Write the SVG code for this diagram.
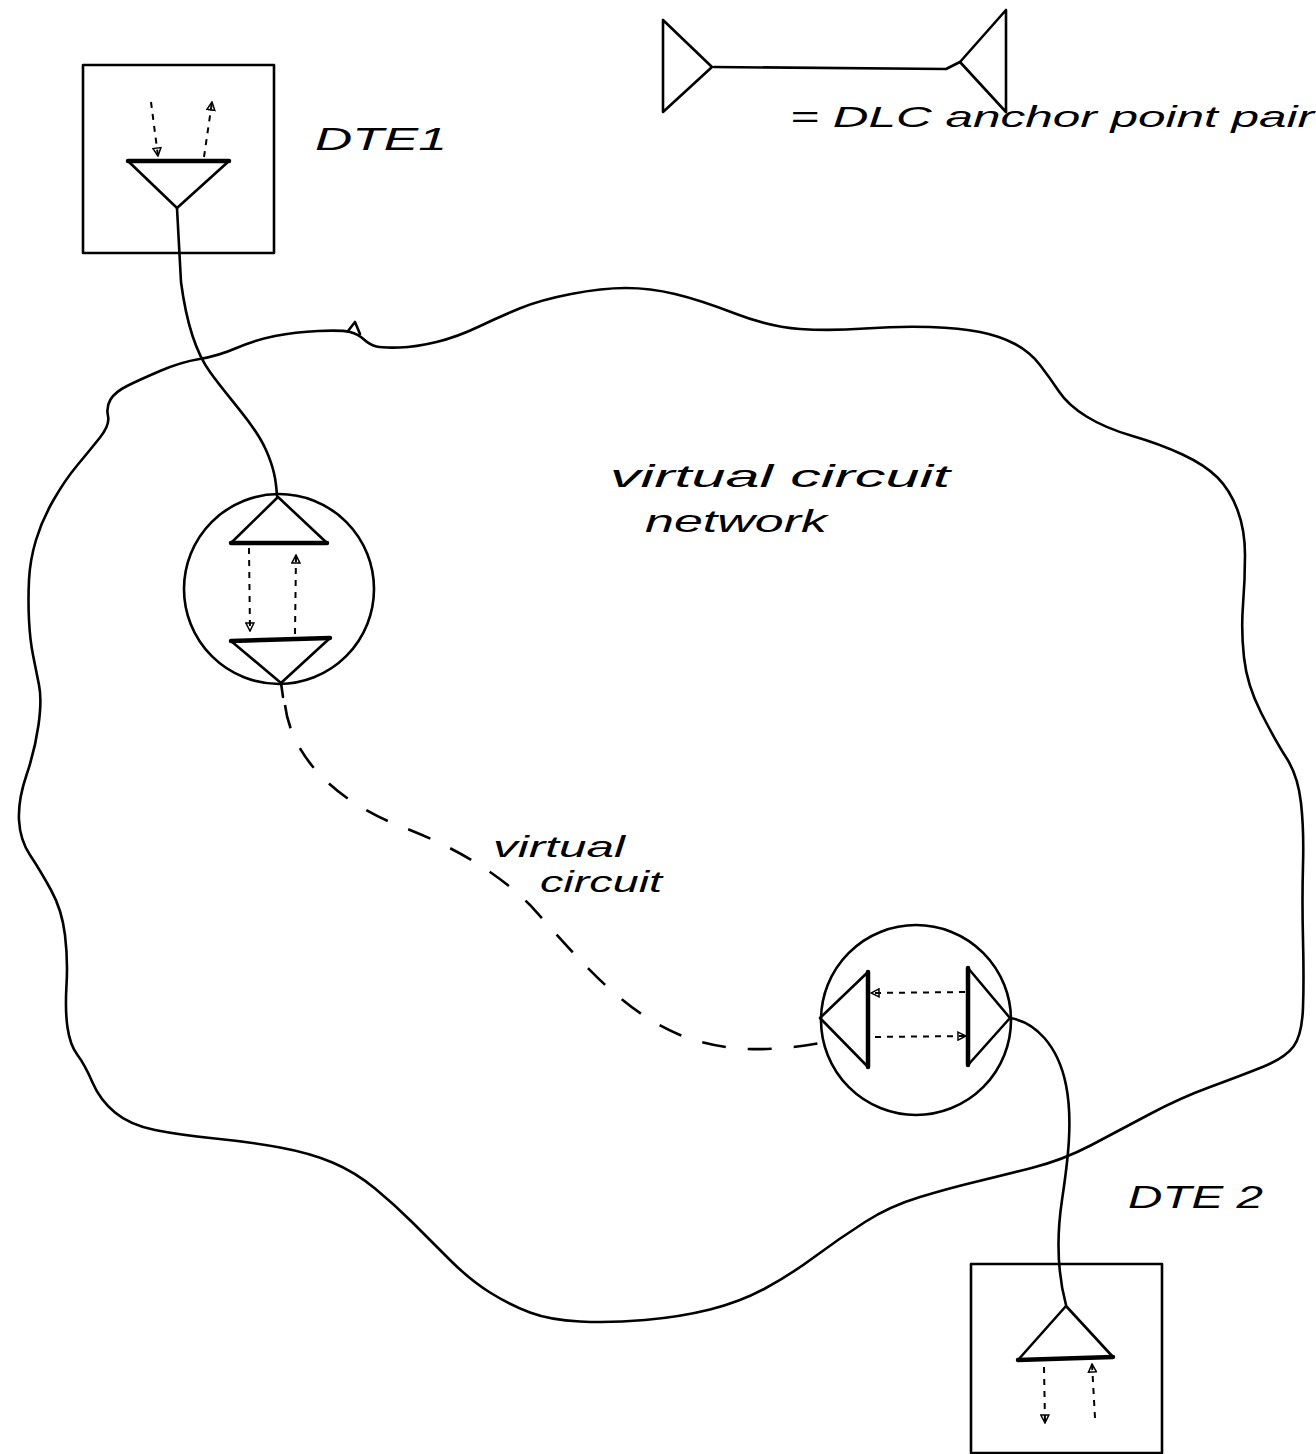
<svg xmlns="http://www.w3.org/2000/svg" width="1316" height="1454" viewBox="0 0 1316 1454">
<style>
.ln{fill:none;stroke:#000;stroke-width:2.6;stroke-linecap:round;stroke-linejoin:round}
.thick{fill:none;stroke:#000;stroke-width:4.5;stroke-linecap:round}
.dash{fill:none;stroke:#000;stroke-width:2;stroke-dasharray:6 6}
.vc{fill:none;stroke:#000;stroke-width:2.6;stroke-dasharray:24 22}
.txt{font-family:"Liberation Sans",Arial,sans-serif;font-style:italic;fill:#000}
</style>
<defs>
<marker id="ah" viewBox="0 0 10 10" refX="9" refY="5" markerWidth="10" markerHeight="10" markerUnits="userSpaceOnUse" orient="auto">
<path d="M1,1 L9,5 L1,9 Z" fill="none" stroke="#000" stroke-width="1.5"/>
</marker>
</defs>
<rect width="1316" height="1454" fill="#fff"/>

<g id="network">
<path class="ln" d="M376.5,346.5 Q383,348 399.5,347.5 Q416,347 436.5,342 Q457,337 478,327 Q499,317 519.5,308.5 Q540,300 571,294 Q602,288 626,288 Q650,288 675,294 Q700,300 735,313.5 Q770,327 800,329 Q830,331 865,328.5 Q900,326 930,327 Q960,328 980,332 Q1000,336 1015,344 Q1030,352 1040,365 Q1050,378 1059,391.5 Q1068,405 1086.5,416.5 Q1105,428 1132.5,436 Q1160,444 1182.5,454.5 Q1205,465 1217.5,477.5 Q1230,490 1237.5,510 Q1245,530 1245,555 Q1245,580 1243,605 Q1241,630 1244,657.5 Q1247,685 1261,712.5 Q1275,740 1286.5,758 Q1298,776 1301,803 Q1304,830 1303,865 Q1302,900 1303,940 Q1304,980 1303,1007.5 Q1302,1035 1293.5,1046.5 Q1285,1058 1262.5,1067 Q1240,1076 1210,1087 Q1180,1098 1150,1114 Q1120,1130 1091.5,1145 Q1063,1160 1031.5,1168 Q1000,1176 975,1182 Q950,1188 920,1197 Q890,1206 865,1222 Q840,1238 815,1256.5 Q790,1275 765,1288.5 Q740,1302 710,1309.5 Q680,1317 645,1320 Q610,1323 580,1321.5 Q550,1320 530,1312.5 Q510,1305 490,1292.5 Q470,1280 450,1260 Q430,1240 412.5,1222.5 Q395,1205 375,1188.5 Q355,1172 332.5,1162.5 Q310,1153 280,1147.5 Q250,1142 215,1138.5 Q180,1135 155,1130 Q130,1125 115,1112.5 Q100,1100 92.5,1082.5 Q85,1065 77.5,1055 Q70,1045 67.5,1027.5 Q65,1010 66.5,985 Q68,960 65,935 Q62,910 51,890 Q40,870 30,855 Q20,840 19,820 Q18,800 26.5,775 Q35,750 38.5,725 Q42,700 39,685 Q36,670 33,655 Q30,640 29,620 Q28,600 29,580 Q30,560 36,540 Q42,520 53.5,500 Q65,480 77.5,465 Q90,450 100,437.5 Q110,425 108,416 Q106,407 110.5,399.5 Q115,392 127,386 Q139,380 160,371 Q181,362 199.5,359 Q218,356 236.5,348 Q255,340 275,336 Q295,332 318.5,331 Q342,330 350,332 Q358,334 364,339.5 Q370,345 376.5,346.5 Z"/>
<path class="ln" d="M348,331 L355,322 L360,334"/>
<text class="txt" x="610" y="487" font-size="32" textLength="340" lengthAdjust="spacingAndGlyphs">virtual circuit</text>
<text class="txt" x="645" y="532" font-size="32" textLength="182" lengthAdjust="spacingAndGlyphs">network</text>
</g>

<g id="legend">
<path class="ln" d="M663,20 L663,112 L712,67 Z"/>
<path class="ln" d="M1006,10 L1006,112 L960,62 Z"/>
<path class="ln" d="M714,67 L946,69 L960,62"/>
<text class="txt" x="790" y="127" font-size="30" textLength="524" lengthAdjust="spacingAndGlyphs">= DLC anchor point pair</text>
</g>

<g id="dte1">
<rect class="ln" x="83" y="65" width="191" height="188"/>
<path class="ln" d="M128,161 L229,161 L177,208 Z"/>
<path class="thick" d="M128,161 L229,161"/>
<path class="dash" d="M151,102 L158,156" marker-end="url(#ah)"/>
<path class="dash" d="M204,157 L212,102" marker-end="url(#ah)"/>
<text class="txt" x="315" y="150" font-size="32" textLength="132" lengthAdjust="spacingAndGlyphs">DTE1</text>
</g>

<g id="switch1">
<circle class="ln" cx="279" cy="589" r="95"/>
<path class="ln" d="M278,497 L327,543 L231,543 Z"/>
<path class="thick" d="M231,543 L327,543"/>
<path class="ln" d="M231,641 L330,638 L281,683 Z"/>
<path class="thick" d="M231,641 L330,638"/>
<path class="dash" d="M249,548 L250,631" marker-end="url(#ah)"/>
<path class="dash" d="M295,634 L296,555" marker-end="url(#ah)"/>
</g>

<g id="switch2">
<circle class="ln" cx="916" cy="1020" r="95"/>
<path class="ln" d="M868,972 L868,1067 L820,1018 Z"/>
<path class="thick" d="M868,972 L868,1067"/>
<path class="ln" d="M968,968 L968,1065 L1010,1018 Z"/>
<path class="thick" d="M968,968 L968,1065"/>
<path class="dash" d="M965,992 L871,993" marker-end="url(#ah)"/>
<path class="dash" d="M875,1037 L966,1036" marker-end="url(#ah)"/>
</g>

<g id="dte2">
<rect class="ln" x="971" y="1264" width="191" height="189"/>
<path class="ln" d="M1066,1306 L1113,1357 L1018,1360 Z"/>
<path class="thick" d="M1018,1360 L1113,1357"/>
<path class="dash" d="M1044,1367 L1045,1423" marker-end="url(#ah)"/>
<path class="dash" d="M1095,1418 L1092,1364" marker-end="url(#ah)"/>
<text class="txt" x="1128" y="1208" font-size="32" textLength="135" lengthAdjust="spacingAndGlyphs">DTE 2</text>
</g>

<g id="connectors">
<path class="ln" d="M177,208 Q179,245 181,282 C186,320 194,350 210,372 C230,400 255,425 266,450 C274,468 276,480 277,496"/>
<path class="ln" d="M281,683 L283,697"/>
<path class="vc" d="M285,705 C292,760 340,805 410,830 C460,850 500,875 530,905 C580,960 620,1010 680,1035 C730,1055 780,1050 820,1043"/>
<path class="ln" d="M1010,1018 C1035,1022 1058,1045 1066,1085 C1073,1120 1068,1160 1062,1200 C1056,1240 1058,1275 1066,1305"/>
<text class="txt" x="493" y="857" font-size="30" textLength="132" lengthAdjust="spacingAndGlyphs">virtual</text>
<text class="txt" x="540" y="892" font-size="30" textLength="122" lengthAdjust="spacingAndGlyphs">circuit</text>
</g>
</svg>
